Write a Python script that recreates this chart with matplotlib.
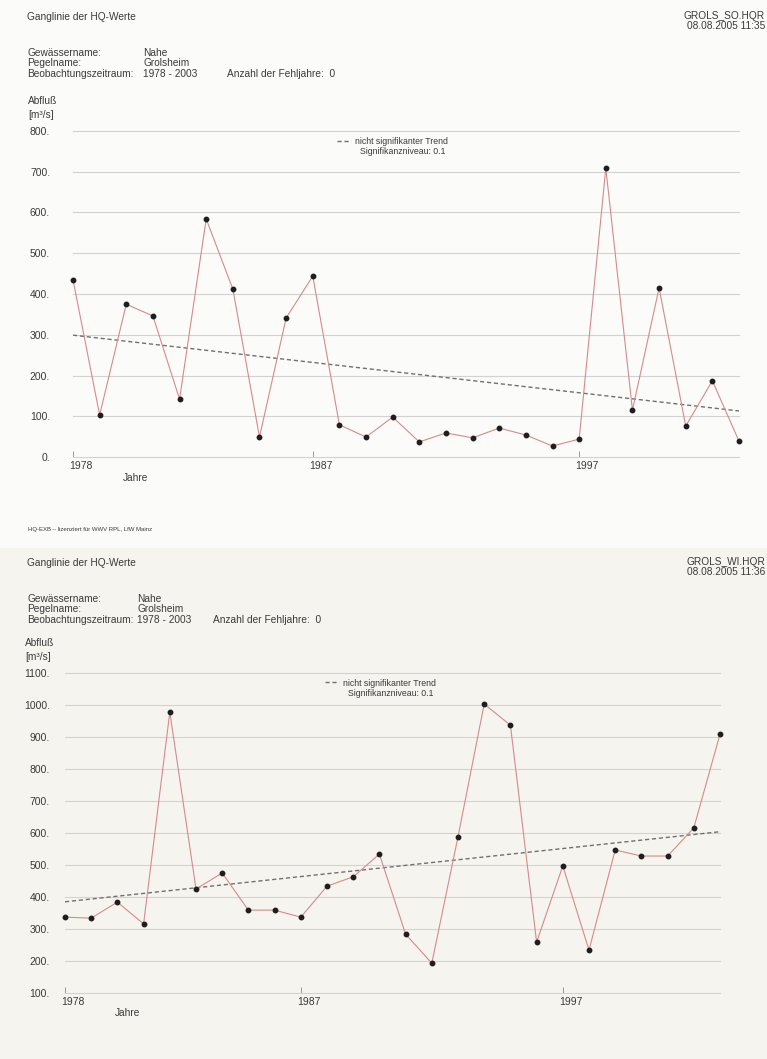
import matplotlib
matplotlib.use('Agg')
import matplotlib.pyplot as plt
import matplotlib.transforms as mtransforms
from matplotlib.patches import Rectangle
from matplotlib.ticker import FixedLocator, FuncFormatter, MultipleLocator

plt.rcParams['font.family'] = ['Liberation Sans', 'DejaVu Sans']

W, H = 767, 1059
TXT = '#3a3a3a'

# Daten
years = list(range(1978, 2004))
hq_so = [435, 103, 375, 346, 142, 584, 412, 49, 341, 444,
         79, 49, 98, 37, 59, 47, 71, 54, 27, 44,
         709, 115, 415, 76, 187, 39]
hq_wi = [337, 334, 384, 316, 978, 425, 475, 359, 359, 337,
         434, 463, 534, 284, 193, 588, 1003, 937, 259, 497,
         234, 547, 528, 528, 616, 909]
trend_years = [1978, 2003]
trend_so = [299, 113]
trend_wi = [385, 604]
x_ticks = [1978, 1987, 1997]

fig = plt.figure(figsize=(W / 100, H / 100), dpi=100)
fig.patch.set_facecolor('#fbfbfa')
# zweite Seite (Scan) etwas dunkler
fig.patches.append(Rectangle((0, 0), 1, 1 - 548 / H, transform=fig.transFigure,
                             facecolor='#f6f4ef', edgecolor='none', zorder=-5))


def ptext(x, y, s, size=7.3, ha='left', **kw):
    # Text in Pixelkoordinaten (Ursprung oben links)
    fig.text(x / W, 1 - y / H, s, fontsize=size, ha=ha, va='center', color=TXT, **kw)


def panel(top, code, stamp, vals, trend, ylim, box, valx, fehlx, achse_x,
          leg, jahre, ylabpad):
    x0, x1, y_top, y_bot = box

    ptext(27, top + 17, 'Ganglinie der HQ-Werte')
    ptext(765, top + 16, code, ha='right')
    ptext(765, top + 26, stamp, ha='right')
    ptext(27, top + 53, 'Gewässername:')
    ptext(valx, top + 53, 'Nahe')
    ptext(27, top + 63, 'Pegelname:')
    ptext(valx, top + 63, 'Grolsheim')
    ptext(27, top + 74, 'Beobachtungszeitraum:')
    ptext(valx, top + 74, '1978 - 2003')
    ptext(fehlx, top + 74, 'Anzahl der Fehljahre:  0')
    ptext(achse_x, y_top - 30, 'Abfluß')
    ptext(achse_x, y_top - 16, '[m³/s]')
    ptext(jahre[0], jahre[1], 'Jahre')

    ax = fig.add_axes([x0 / W, 1 - y_bot / H, (x1 - x0) / W, (y_bot - y_top) / H])
    ax.set_facecolor('none')
    ax.plot(years, vals, color='#d48b8b', lw=0.8, zorder=3)
    ax.plot(years, vals, 'o', color='#1e1e1e', ms=3.2, zorder=4, clip_on=False)
    tr, = ax.plot(trend_years, trend, color='#707070', lw=1.0, dashes=(3, 2), zorder=2)
    ax.set_xlim(1978, 2003)
    ax.set_ylim(*ylim)
    for s in ax.spines.values():
        s.set_visible(False)
    ax.yaxis.set_major_locator(MultipleLocator(100))
    ax.yaxis.set_major_formatter(FuncFormatter(lambda v, p: f'{v:.0f}.'))
    ax.grid(axis='y', color='#d2d2d2', lw=0.8)
    for g in ax.get_ygridlines():
        g.set_clip_on(False)
    ax.tick_params(axis='y', length=0, pad=ylabpad, labelsize=7.5, labelcolor=TXT)
    ax.xaxis.set_major_locator(FixedLocator(x_ticks))
    ax.tick_params(axis='x', direction='in', length=4, width=0.6, color='#888888',
                   pad=3, labelsize=7.5, labelcolor=TXT)
    off = mtransforms.ScaledTranslation(-4 / 100, 0, fig.dpi_scale_trans)
    for lab in ax.get_xticklabels():
        lab.set_horizontalalignment('left')
        lab.set_transform(lab.get_transform() + off)

    lx, ly, l2x = leg
    ax.legend([tr], ['nicht signifikanter Trend'], loc='center left',
              bbox_to_anchor=(lx / W, 1 - ly / H), bbox_transform=fig.transFigure,
              frameon=False, fontsize=6.3, borderpad=0, borderaxespad=0,
              handlelength=1.6, handletextpad=0.5, labelcolor=TXT)
    ptext(l2x, ly + 10, 'Signifikanzniveau: 0.1', size=6.3)
    return ax


panel(0, 'GROLS_SO.HQR', '08.08.2005 11:35', hq_so, trend_so, (0, 800),
      (73, 739, 131, 457), 143, 227, 28, (337, 142, 360), (123, 478), 16.5)
ptext(28, 530, 'HQ-EXB – lizenziert für WWV RPL, LfW Mainz', size=4.3)

panel(546, 'GROLS_WI.HQR', '08.08.2005 11:36', hq_wi, trend_wi, (100, 1100),
      (65, 720, 673, 993), 137, 213, 25, (325, 683, 348), (115, 1013), 11)

fig.savefig('out.png', dpi=100, facecolor=fig.get_facecolor())
